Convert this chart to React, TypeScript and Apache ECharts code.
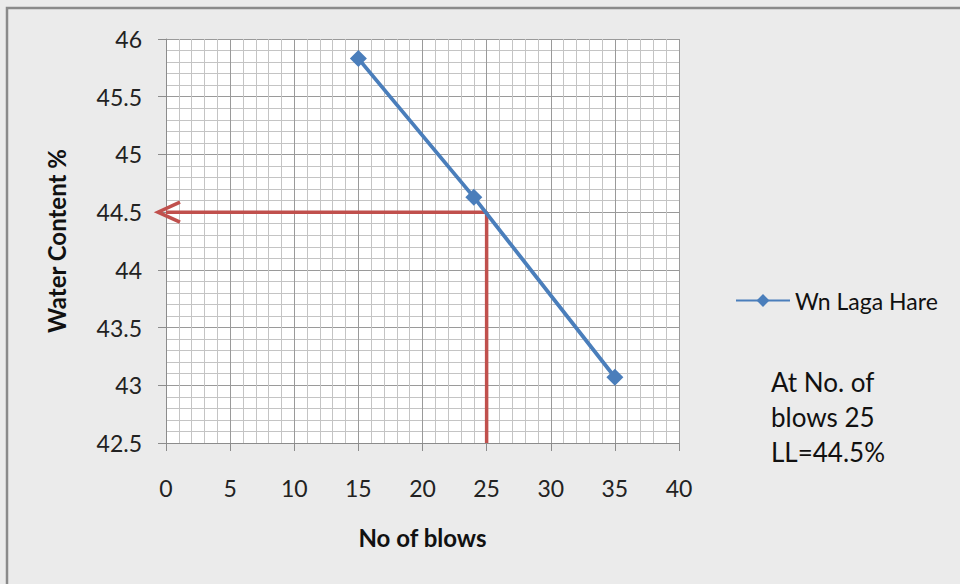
import React, { useEffect, useRef } from "react";
import * as echarts from "echarts";

const seriesName = "Wn Laga Hare";
const blows = [15, 24, 35];
const waterContent = [45.83, 44.63, 43.07];
const llBlows = 25;
const llValue = 44.5;
const xAxisName = "No of blows";
const yAxisName = "Water Content %";
const noteLines = ["At No. of", "blows 25", "LL=44.5%"];

const FONT = "Lato, 'Open Sans', sans-serif";

export default function App() {
  const ref = useRef<HTMLDivElement>(null);
  useEffect(() => {
    if (!ref.current) return;
    const chart = echarts.init(ref.current, undefined, { renderer: "svg" });
    const xMin = 0;
    const yMin = 42.5;
    chart.setOption({
      animation: false,
      backgroundColor: "#ebebeb",
      textStyle: { fontFamily: FONT },
      grid: {
        left: 166,
        top: 39,
        width: 513,
        height: 404,
        show: true,
        backgroundColor: "#ffffff",
        borderWidth: 0,
      },
      legend: {
        data: [seriesName],
        left: 730,
        top: 284,
        itemWidth: 54,
        itemHeight: 16,
        itemGap: 4,
        textStyle: { fontFamily: FONT, fontSize: 23, color: "#111" },
      },
      xAxis: {
        type: "value",
        min: 0,
        max: 40,
        interval: 5,
        name: xAxisName,
        nameLocation: "middle",
        nameGap: 82,
        nameTextStyle: { fontFamily: FONT, fontSize: 24, fontWeight: "bold", color: "#111" },
        axisLine: { show: true, onZero: false, lineStyle: { color: "#8c8c8c", width: 1 } },
        axisTick: { show: true, length: 8, lineStyle: { color: "#8c8c8c" } },
        axisLabel: { margin: 33, fontSize: 23, color: "#222", fontFamily: FONT },
        splitLine: { show: true, lineStyle: { color: "#9a9a9a", width: 1 } },
        minorTick: { show: false, splitNumber: 5 },
        minorSplitLine: { show: true, lineStyle: { color: "#c4c4c4", width: 1 } },
      },
      yAxis: {
        type: "value",
        min: 42.5,
        max: 46,
        interval: 0.5,
        name: yAxisName,
        nameLocation: "middle",
        nameGap: 98,
        nameTextStyle: { fontFamily: FONT, fontSize: 24, fontWeight: "bold", color: "#111" },
        axisLine: { show: true, onZero: false, lineStyle: { color: "#8c8c8c", width: 1 } },
        axisTick: { show: true, length: 8, lineStyle: { color: "#8c8c8c" } },
        axisLabel: { margin: 24, fontSize: 23, color: "#222", fontFamily: FONT },
        splitLine: { show: true, lineStyle: { color: "#9a9a9a", width: 1 } },
        minorTick: { show: false, splitNumber: 5 },
        minorSplitLine: { show: true, lineStyle: { color: "#c4c4c4", width: 1 } },
      },
      graphic: [
        {
          type: "rect",
          shape: { x: 7, y: 8, width: 1200, height: 1000 },
          style: { fill: "none", stroke: "#8a8a8a", lineWidth: 2.5 },
          silent: true,
        },
        {
          type: "text",
          left: 771,
          top: 364,
          style: {
            text: noteLines.join("\n"),
            font: `26px ${FONT}`,
            lineHeight: 35,
            fill: "#111",
          },
        },
      ],
      series: [
        {
          name: "LL guide",
          type: "line",
          data: [
            [xMin, llValue],
            [llBlows, llValue],
            [llBlows, yMin],
          ],
          symbol: "none",
          lineStyle: { color: "#c0504d", width: 3.5 },
          z: 3,
          silent: true,
        },
        {
          name: "LL arrow",
          type: "custom",
          data: [[xMin, llValue]],
          clip: false,
          z: 4,
          silent: true,
          renderItem: (_params: any, api: any) => {
            const p = api.coord([api.value(0), api.value(1)]);
            return {
              type: "polyline",
              shape: {
                points: [
                  [p[0] + 14, p[1] - 10],
                  [p[0] - 8, p[1]],
                  [p[0] + 14, p[1] + 10],
                ],
              },
              style: { stroke: "#c0504d", lineWidth: 3.5, fill: "none", lineJoin: "miter" },
            };
          },
        },
        {
          name: seriesName,
          type: "line",
          data: blows.map((b, i) => [b, waterContent[i]]),
          symbol: "diamond",
          symbolSize: 17,
          itemStyle: { color: "#4a7ebb" },
          lineStyle: { color: "#4a7ebb", width: 3.8 },
          z: 5,
        },
      ],
    });
    return () => chart.dispose();
  }, []);
  return (
    <div
      ref={ref}
      style={{ position: "fixed", left: 0, top: 0, width: 960, height: 584 }}
    />
  );
}
